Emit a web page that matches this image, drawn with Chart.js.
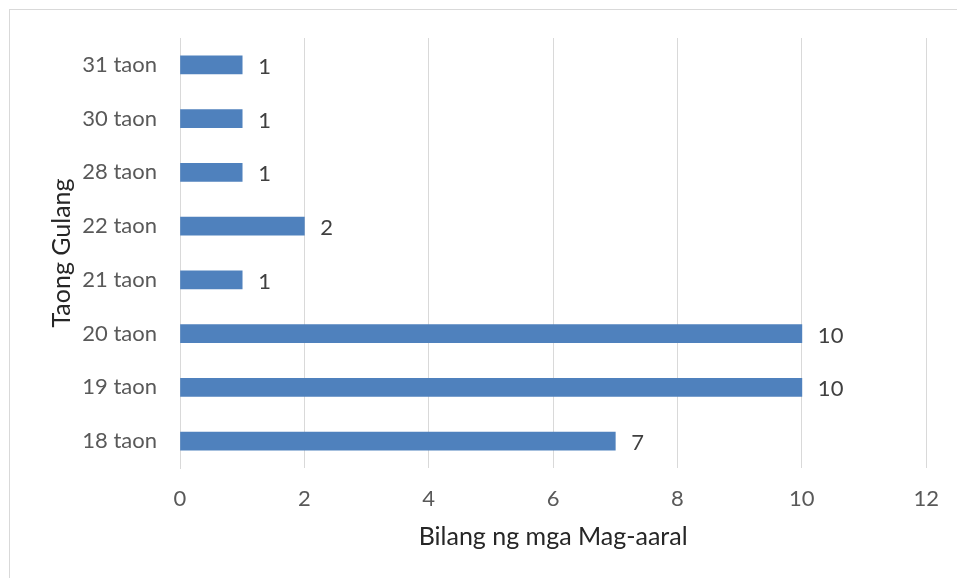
<!DOCTYPE html>
<html>
<head>
<meta charset="utf-8">
<script src="https://cdn.jsdelivr.net/npm/chart.js@4/dist/chart.umd.min.js"></script>
<style>
  html, body { margin: 0; padding: 0; background: #fff; overflow: hidden; }
  #wrap { position: relative; width: 957px; height: 578px; }
  #frame { position: absolute; left: 9px; top: 9px; width: 1000px; height: 1000px; border: 1px solid #d9d9d9; }
  #graph { position: absolute; left: 0; top: 0; }
</style>
</head>
<body>
<div id="wrap">
  <div id="frame"></div>
  <canvas id="graph" width="957" height="578"></canvas>
</div>
<script>
var categories = ['31 taon', '30 taon', '28 taon', '22 taon', '21 taon', '20 taon', '19 taon', '18 taon'];
var counts = [1, 1, 1, 2, 1, 10, 10, 7];
var xTicks = [0, 2, 4, 6, 8, 10, 12];

// draws the value next to the end of each bar
var valueLabels = {
    id: 'valueLabels',
    afterDatasetsDraw: function(chart) {
        var ctx = chart.ctx;
        var meta = chart.getDatasetMeta(0);
        ctx.save();
        ctx.font = '22px Lato';
        ctx.fillStyle = '#404040';
        ctx.textAlign = 'left';
        ctx.textBaseline = 'middle';
        meta.data.forEach(function(bar, i) {
            ctx.fillText(String(chart.data.datasets[0].data[i]), bar.x + 16, bar.y + 2);
        });
        ctx.restore();
    }
};

var ctx = document.getElementById('graph').getContext('2d');
var chart = new Chart(ctx, {
    type: 'bar',
    data: {
        labels: categories,
        datasets: [{
            data: counts,
            backgroundColor: '#4f81bd',
            borderWidth: 0,
            barThickness: 18
        }]
    },
    options: {
        indexAxis: 'y',
        responsive: false,
        animation: false,
        layout: { padding: { top: 38, right: 28, left: 0, bottom: 0 } },
        plugins: {
            legend: { display: false },
            tooltip: { enabled: false }
        },
        scales: {
            x: {
                min: 0,
                max: 12,
                afterBuildTicks: function(scale) {
                    scale.ticks = xTicks.map(function(v) { return { value: v }; });
                },
                afterFit: function(scale) { scale.height = 110; },
                grid: { color: '#d9d9d9', lineWidth: 1, drawTicks: false },
                border: { display: false },
                ticks: { color: '#595959', font: { family: 'Lato', size: 22 }, padding: 18 },
                title: {
                    display: true,
                    text: 'Bilang ng mga Mag-aaral',
                    color: '#262626',
                    font: { family: 'Lato', size: 25 },
                    padding: { top: 0, bottom: 26 }
                }
            },
            y: {
                afterFit: function(scale) { scale.width = 180; },
                grid: { display: false, drawTicks: false },
                border: { display: true, color: '#d9d9d9', width: 1 },
                ticks: { color: '#595959', font: { family: 'Lato', size: 22 }, padding: 23 },
                title: {
                    display: true,
                    text: 'Taong Gulang',
                    color: '#262626',
                    font: { family: 'Lato', size: 25 },
                    padding: { top: 47, bottom: 0 }
                }
            }
        }
    },
    plugins: [valueLabels]
});
</script>
</body>
</html>
